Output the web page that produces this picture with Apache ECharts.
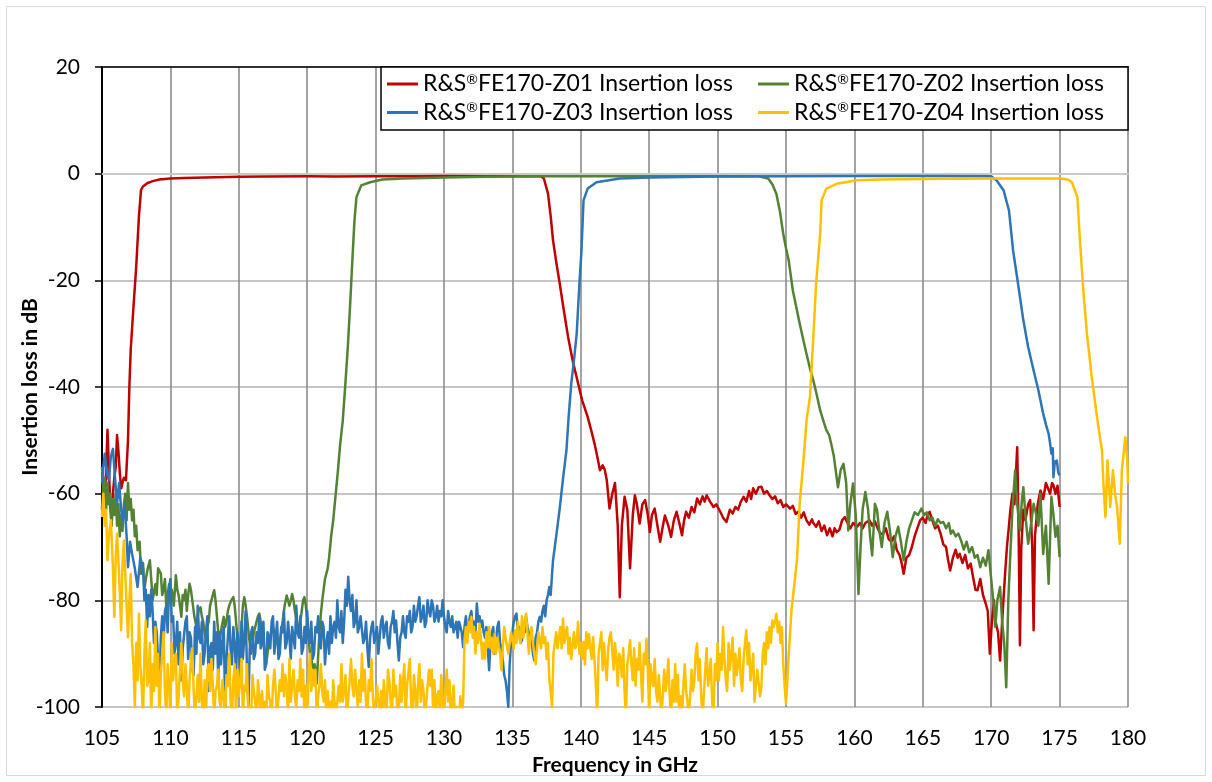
<!DOCTYPE html>
<html>
<head>
<meta charset="utf-8">
<script src="https://cdn.jsdelivr.net/npm/echarts@6/dist/echarts.min.js"></script>
<style>
html,body{margin:0;padding:0;background:#fff;}
#chart{width:1212px;height:782px;}
</style>
</head>
<body>
<div id="chart"></div>
<script>
// Frequency axis ticks (GHz) and insertion loss axis ticks (dB)
const xTicks = [105,110,115,120,125,130,135,140,145,150,155,160,165,170,175,180];
const yTicks = [-100,-80,-60,-40,-20,0,20];

const seriesNames = [
  'R&S®FE170-Z01 Insertion loss',
  'R&S®FE170-Z02 Insertion loss',
  'R&S®FE170-Z03 Insertion loss',
  'R&S®FE170-Z04 Insertion loss'
];

// [frequency GHz, insertion loss dB]
const z01 = [
[105.0,-63],[105.1,-58],[105.2,-61],[105.3,-56],[105.4,-48],[105.5,-55],[105.6,-62],[105.7,-66],[105.8,-60],[105.9,-57],
[106.0,-55],[106.1,-49],[106.2,-52],[106.3,-56],[106.4,-59],[106.5,-58],[106.6,-57],[106.75,-57.5],[106.9,-50],[107.0,-40],
[107.1,-33],[107.3,-25],[107.5,-17.5],[107.7,-8],[107.85,-3.1],[108.0,-2.4],[108.3,-1.8],[108.7,-1.4],[109.2,-1.1],[110,-0.9],
[111,-0.8],[112.5,-0.7],[115,-0.6],[117,-0.55],[120,-0.5],[122,-0.55],[125,-0.5],[128,-0.5],[130,-0.45],[133,-0.5],
[136,-0.5],[137.1,-0.5],[137.3,-0.9],[137.6,-3.7],[137.8,-8],[137.97,-12.5],[138.2,-16.5],[138.46,-20.6],[138.75,-25.5],[139.07,-30.6],
[139.4,-35],[139.8,-39.3],[140.1,-42.5],[140.5,-45.6],[140.8,-48.5],[141.0,-50.6],[141.2,-53],[141.4,-55.6],[141.6,-54.7],[141.75,-55.5],
[141.9,-57.5],[142.1,-62.8],[142.3,-60],[142.5,-58],[142.7,-66],[142.85,-79.4],[143.0,-66],[143.2,-60.6],[143.4,-63],[143.6,-74],
[143.8,-64],[143.95,-60.3],[144.1,-62],[144.3,-65.6],[144.5,-62],[144.7,-61.2],[144.9,-64],[145.05,-67.2],[145.2,-64],[145.4,-62.8],
[145.6,-66],[145.8,-69],[146.0,-66],[146.15,-64.1],[146.4,-66],[146.6,-68.1],[146.8,-65],[147.0,-63.4],[147.2,-65.5],[147.4,-67.8],
[147.55,-65],[147.7,-63.4],[147.9,-64.5],[148.1,-62.5],[148.3,-63.5],[148.5,-60.9],[148.7,-62],[148.9,-60.5],[149.05,-61.5],[149.2,-60.3],
[149.45,-61.5],[149.7,-62.5],[149.9,-62],[150.2,-63.4],[150.4,-64.5],[150.65,-65.3],[150.9,-63],[151.1,-63.7],[151.3,-62.5],[151.5,-63],
[151.7,-61.5],[151.9,-60.6],[152.1,-61.5],[152.3,-59.5],[152.45,-61],[152.6,-59],[152.8,-60],[153.0,-58.8],[153.2,-58.7],[153.4,-60],
[153.6,-59.5],[153.8,-60.3],[154.0,-61],[154.2,-60.5],[154.4,-61.8],[154.6,-61.2],[154.8,-62.5],[155.0,-62],[155.3,-62.8],[155.5,-62.3],
[155.7,-63.8],[155.9,-63.4],[156.1,-64.5],[156.3,-63.5],[156.5,-65],[156.7,-65.8],[156.9,-64.8],[157.0,-65.5],[157.2,-66.2],[157.4,-65.2],
[157.6,-67],[157.8,-66],[158.0,-67.8],[158.2,-66.5],[158.4,-68],[158.55,-66.5],[158.7,-67.2],[158.9,-66.8],[159.1,-65],[159.3,-64.4],
[159.5,-65.5],[159.7,-66.5],[159.9,-65.5],[160.2,-66.2],[160.4,-65.5],[160.6,-66.5],[160.8,-65.5],[161.1,-65],[161.3,-66],[161.5,-65.2],
[161.7,-66.5],[161.9,-67.5],[162.1,-67.5],[162.3,-66.5],[162.5,-68.5],[162.7,-69],[162.9,-68],[163.1,-70.6],[163.3,-71.5],[163.45,-73],
[163.6,-75],[163.8,-72],[164.0,-71.5],[164.2,-70],[164.4,-68],[164.6,-66.5],[164.8,-65],[165.0,-64.5],[165.2,-65.5],[165.35,-64],
[165.5,-63.4],[165.7,-65],[165.9,-66.5],[166.1,-66],[166.3,-67.5],[166.5,-69.5],[166.7,-70],[166.85,-72.5],[167.0,-74.4],[167.2,-72],
[167.4,-70.5],[167.55,-72],[167.7,-71.3],[167.9,-73],[168.1,-71.5],[168.3,-74],[168.5,-73.1],[168.7,-76],[168.85,-78],[169.0,-78.1],
[169.2,-76],[169.4,-79],[169.6,-80.6],[169.75,-82],[169.9,-90],[170.05,-84],[170.2,-80],[170.3,-83.8],[170.5,-86],[170.65,-91.3],
[170.8,-84],[171.0,-75.6],[171.15,-70],[171.3,-66],[171.4,-63.1],[171.55,-60],[171.7,-62],[171.9,-51.3],[172.0,-66],[172.1,-88.4],
[172.2,-70],[172.35,-63],[172.5,-65],[172.7,-62],[172.85,-61.2],[173.0,-70],[173.1,-85.6],[173.2,-68],[173.4,-62],[173.6,-59.4],
[173.8,-61],[174.0,-58],[174.1,-58.1],[174.3,-60],[174.45,-58],[174.55,-58.4],[174.7,-60],[174.85,-58.5],[175.0,-62.5]
];

const z02 = [
[105.0,-55],[105.1,-60],[105.2,-57],[105.3,-63],[105.4,-58],[105.5,-62],[105.6,-60],[105.7,-66],[105.8,-61],[105.9,-64],
[106.0,-60],[106.1,-66],[106.2,-62],[106.3,-68],[106.4,-64],[106.5,-67],[106.6,-62],[106.7,-60],[106.8,-65],[106.9,-58],
[107.0,-63],[107.1,-61],[107.2,-65],[107.3,-63],[107.4,-68],[107.5,-66],[107.6,-70.6],[107.75,-69],[107.85,-75],[108.0,-73],
[108.1,-78],[108.2,-76],[108.35,-74],[108.5,-72.5],[108.6,-76],[108.7,-80],[108.9,-77],[109.0,-79],[109.1,-74],[109.3,-75],
[109.4,-79],[109.5,-78],[109.6,-76],[109.7,-81.3],[109.8,-79],[109.9,-77],[110.0,-80],[110.1,-78],[110.25,-81],[110.4,-75.3],
[110.5,-78],[110.6,-79],[110.7,-81],[110.8,-83.1],[110.9,-79],[111.0,-80],[111.1,-78],[111.2,-82],[111.3,-79],[111.4,-76.9],
[111.5,-78],[111.6,-80],[111.75,-83],[111.9,-85],[112.05,-82],[112.2,-81.3],[112.3,-83],[112.4,-84],[112.5,-86],[112.6,-87.5],
[112.7,-85],[112.8,-84],[112.9,-81],[113.0,-80],[113.1,-79],[113.2,-78.1],[113.3,-80],[113.4,-83],[113.5,-86],[113.6,-87.5],
[113.75,-85],[113.9,-83.1],[114.0,-85],[114.1,-84],[114.2,-82],[114.3,-81],[114.45,-80],[114.6,-79.4],[114.7,-81],[114.8,-84],
[114.9,-87],[115.05,-89.4],[115.15,-87],[115.2,-85],[115.3,-81],[115.4,-79.4],[115.5,-81],[115.6,-83],[115.75,-87],[115.9,-90],
[116.0,-88],[116.1,-86],[116.2,-85],[116.3,-84],[116.4,-83],[116.5,-82.5],[116.6,-84],[116.7,-86],[116.85,-89],[117.0,-91.9],
[117.1,-90],[117.2,-88],[117.35,-86],[117.5,-85],[117.6,-86],[117.75,-87],[117.9,-89],[118.0,-88.8],[118.1,-86],[118.2,-84],
[118.35,-81],[118.5,-79.1],[118.6,-80],[118.7,-81],[118.8,-80],[118.9,-78.8],[119.0,-80],[119.1,-82],[119.25,-84],[119.4,-86.3],
[119.5,-84],[119.6,-82],[119.7,-80],[119.8,-79.4],[119.9,-81],[120.0,-84],[120.1,-87],[120.2,-90],[120.3,-91],[120.45,-93],
[120.55,-92],[120.7,-95.6],[120.85,-88],[121.0,-82.5],[121.1,-80],[121.2,-78],[121.3,-76],[121.4,-75],[121.5,-74],[121.6,-72],
[121.75,-68],[121.9,-65],[122.05,-61],[122.25,-55.6],[122.4,-51],[122.6,-46.3],[122.8,-39],[122.97,-32.5],[123.15,-24],[123.3,-16.3],
[123.45,-9],[123.6,-4.4],[123.95,-2.2],[124.6,-1.6],[125.5,-1.1],[127,-0.9],[130,-0.7],[133,-0.6],[136,-0.5],[140,-0.5],
[145,-0.5],[150,-0.5],[153,-0.5],[153.7,-0.9],[154.0,-2.0],[154.3,-3.8],[154.55,-7],[154.8,-11.3],[155.0,-14],[155.2,-16.3],
[155.5,-21.9],[155.75,-25],[156.0,-28.1],[156.25,-31],[156.5,-33.8],[156.75,-36.5],[157.0,-38.8],[157.25,-41.5],[157.5,-44.4],[157.75,-46.5],
[157.95,-48.1],[158.15,-49],[158.3,-50.6],[158.5,-53],[158.6,-55],[158.8,-58.8],[159.0,-55.5],[159.2,-54.4],[159.4,-58],[159.55,-66.9],
[159.7,-62],[159.9,-58.1],[160.1,-64],[160.3,-78.8],[160.45,-70],[160.6,-63],[160.8,-59.7],[161.0,-63],[161.15,-68],[161.3,-71.6],
[161.5,-61.9],[161.65,-63],[161.8,-66.5],[162.0,-70],[162.2,-65.5],[162.4,-63.4],[162.6,-67],[162.8,-71.9],[163.0,-68],[163.2,-66.2],
[163.4,-69],[163.6,-72.5],[163.8,-69],[164.0,-66.5],[164.2,-65],[164.4,-63.5],[164.65,-64],[164.9,-62.8],[165.1,-64],[165.3,-63.5],
[165.5,-65],[165.7,-64.5],[165.9,-66],[166.1,-64.8],[166.3,-65.5],[166.5,-65.3],[166.7,-66.5],[166.9,-65.5],[167.05,-67.5],[167.2,-66.9],
[167.4,-68],[167.6,-67.5],[167.8,-68.8],[168.0,-70.5],[168.2,-69],[168.4,-71],[168.6,-70],[168.8,-72],[169.0,-71.5],[169.2,-73.8],
[169.4,-72],[169.6,-73.5],[169.8,-70.6],[170.0,-76],[170.15,-80],[170.3,-85],[170.45,-80],[170.65,-77.5],[170.8,-84],[170.95,-88],
[171.1,-96.3],[171.25,-80],[171.4,-71.3],[171.55,-63],[171.75,-55.6],[171.9,-62],[172.1,-66.9],[172.25,-61],[172.35,-58.8],[172.5,-64],
[172.7,-69.4],[172.9,-66],[173.1,-61.9],[173.3,-64],[173.45,-66],[173.6,-60],[173.8,-71.3],[174.0,-66],[174.2,-76.9],[174.4,-60.6],
[174.55,-64],[174.7,-68.1],[174.85,-66],[175.0,-71.9]
];

const z03 = [
[105.0,-58],[105.1,-55],[105.2,-52.5],[105.35,-56],[105.5,-57.5],[105.65,-53],[105.8,-51.6],[105.95,-57],[106.1,-61.9],[106.25,-58],
[106.4,-63],[106.5,-65],[106.65,-62],[106.8,-68],[106.9,-73.8],[107.05,-69],[107.2,-71.3],[107.4,-74],[107.6,-77.5],[107.8,-72],
[108.0,-74],[108.1,-80],[108.2,-78],[108.3,-85],[108.4,-79],[108.5,-83],[108.6,-78],[108.7,-82],[108.8,-88],[108.9,-84],
[109.0,-86],[109.1,-91],[109.2,-96],[109.3,-87],[109.4,-83],[109.5,-88],[109.6,-82],[109.7,-81],[109.8,-86],[109.9,-78],
[110.0,-76],[110.1,-84],[110.2,-83],[110.3,-90],[110.4,-88],[110.5,-84],[110.6,-92],[110.7,-86],[110.8,-95],[110.9,-89],
[111.0,-89],[111.1,-84],[111.2,-83],[111.3,-91],[111.4,-86],[111.5,-87],[111.6,-93],[111.7,-94],[111.8,-85],[111.9,-90],
[112.0,-81],[112.1,-87],[112.2,-88],[112.3,-84],[112.4,-92],[112.5,-90],[112.6,-86],[112.7,-83],[112.8,-97],[112.9,-89],
[113.0,-88],[113.1,-93],[113.2,-84],[113.3,-90],[113.4,-86],[113.5,-95],[113.6,-86],[113.7,-92],[113.8,-88],[113.9,-85],
[114.0,-100],[114.1,-91],[114.2,-87],[114.3,-83],[114.4,-89],[114.5,-92],[114.6,-85],[114.7,-88],[114.8,-94],[114.9,-86],
[115.0,-88],[115.1,-95],[115.2,-84],[115.3,-91],[115.4,-87],[115.5,-82],[115.6,-93],[115.7,-100],[115.8,-89],[115.9,-86],
[116.0,-85],[116.1,-91],[116.2,-90],[116.3,-86],[116.4,-88],[116.5,-83],[116.6,-89],[116.7,-88],[116.8,-84],[116.9,-93],
[117.0,-92],[117.1,-86],[117.2,-86],[117.3,-89],[117.4,-84],[117.5,-83],[117.6,-90],[117.7,-87],[117.8,-84],[117.9,-91],
[118.0,-90],[118.1,-85],[118.2,-86],[118.3,-82],[118.4,-89],[118.5,-88],[118.6,-84],[118.7,-87],[118.8,-91],[118.9,-85],
[119.0,-85],[119.1,-89],[119.2,-81],[119.3,-86],[119.4,-87],[119.5,-83],[119.6,-90],[119.7,-89],[119.8,-85],[119.9,-88],
[120.0,-82],[120.1,-87],[120.2,-88],[120.3,-84],[120.4,-91],[120.5,-90],[120.6,-85],[120.7,-86],[120.8,-83],[120.9,-88],
[121.0,-89],[121.1,-84],[121.2,-85],[121.3,-92],[121.4,-88],[121.5,-86],[121.6,-90],[121.7,-83],[121.8,-88],[121.9,-85],
[122.0,-84],[122.1,-87],[122.2,-80],[122.3,-85],[122.4,-86],[122.5,-82],[122.6,-88],[122.7,-84],[122.8,-78],[122.9,-81],
[123.0,-75.6],[123.1,-80],[123.2,-82],[123.3,-79],[123.4,-85],[123.5,-84],[123.6,-80],[123.7,-86],[123.8,-85],[123.9,-83],
[124.0,-83],[124.1,-88],[124.2,-87],[124.3,-84],[124.4,-89],[124.5,-92.5],[124.6,-87],[124.7,-85],[124.8,-84],[124.9,-88],
[125.0,-88],[125.1,-85],[125.2,-90],[125.3,-86.9],[125.4,-84],[125.5,-83],[125.6,-87],[125.7,-85],[125.8,-84],[125.9,-88],
[126.0,-89],[126.1,-85],[126.2,-84],[126.3,-82],[126.4,-86],[126.5,-83.8],[126.6,-88],[126.7,-91.3],[126.8,-87],[126.9,-86],
[127.0,-83],[127.1,-86],[127.2,-87],[127.3,-83],[127.4,-84],[127.5,-82],[127.6,-86],[127.7,-85],[127.8,-81],[127.9,-84],
[128.0,-83],[128.1,-81],[128.2,-79.4],[128.3,-84],[128.4,-83],[128.5,-81],[128.6,-85],[128.7,-84],[128.8,-80],[128.9,-82],
[129.0,-83],[129.1,-80],[129.2,-81],[129.3,-84],[129.4,-83.1],[129.5,-81],[129.6,-84],[129.7,-82],[129.8,-83],[129.9,-80],
[130.0,-83],[130.1,-85],[130.2,-86],[130.3,-82],[130.4,-84],[130.5,-85],[130.6,-83],[130.7,-86],[130.8,-85],[130.9,-84],
[131.0,-87],[131.1,-84],[131.2,-84],[131.3,-86],[131.4,-88.8],[131.5,-85],[131.6,-83],[131.7,-86],[131.8,-86],[131.9,-83],
[132.0,-82],[132.1,-85],[132.2,-84],[132.3,-86],[132.4,-80.6],[132.5,-84],[132.6,-83],[132.7,-85],[132.8,-83.8],[132.9,-86],
[133.0,-87],[133.1,-85],[133.2,-89],[133.3,-93.1],[133.4,-88],[133.5,-86],[133.6,-85],[133.7,-90],[133.8,-87.5],[133.9,-85],
[134.0,-84],[134.1,-88],[134.2,-89],[134.3,-91.3],[134.4,-94],[134.5,-95],[134.6,-97],[134.7,-100],[134.8,-92],[134.9,-88],
[135.0,-86],[135.1,-84],[135.2,-83],[135.3,-82.5],[135.4,-86],[135.5,-85],[135.6,-88],[135.7,-87.5],[135.8,-84],[135.9,-86],
[136.0,-83.1],[136.1,-85],[136.2,-86],[136.3,-88],[136.4,-87],[136.5,-90],[136.6,-91.3],[136.7,-87],[136.8,-86],[136.9,-84],
[137.0,-83.1],[137.1,-84],[137.2,-82],[137.3,-81],[137.4,-83],[137.5,-80],[137.6,-79],[137.7,-77.5],[137.8,-79],[137.9,-75],
[137.97,-72.5],[138.2,-68],[138.45,-63],[138.7,-57.2],[138.95,-51.9],[139.1,-46],[139.3,-39.4],[139.5,-35],[139.7,-30],[139.9,-20.6],
[140.05,-14.4],[140.2,-5],[140.5,-2.8],[141.15,-1.6],[142.85,-0.9],[145,-0.7],[150,-0.55],[155,-0.5],[160,-0.45],[165,-0.45],
[170,-0.5],[170.4,-1.3],[170.9,-3.1],[171.3,-6.9],[171.6,-14.4],[172.0,-21.3],[172.35,-27.5],[172.7,-32.5],[173.1,-36.9],[173.45,-40.6],
[173.8,-45],[174.0,-47],[174.2,-48.8],[174.3,-50.5],[174.4,-52.5],[174.5,-51.5],[174.55,-56.9],[174.65,-54],[174.8,-53.8],[174.9,-56],
[175.0,-56.6]
];

const z04 = [
[105.0,-64.4],[105.1,-60],[105.2,-66],[105.3,-63],[105.4,-72.5],[105.5,-68],[105.65,-65],[105.8,-74],[105.9,-83.1],[106.0,-72],
[106.1,-67.5],[106.25,-75],[106.4,-85.6],[106.5,-73],[106.6,-68.8],[106.75,-78],[106.9,-86.9],
[107.0,-80],[107.1,-75],[107.2,-88],[107.3,-92],[107.4,-100],[107.5,-88],[107.6,-95],[107.7,-82.5],[107.8,-92],[107.9,-96],
[108.0,-102],[108.1,-90],[108.2,-83.8],[108.3,-96],[108.4,-95],[108.5,-88],[108.6,-102],[108.7,-92],[108.8,-97],[108.9,-85],
[109.0,-96],[109.1,-90],[109.2,-102],[109.3,-94],[109.4,-90],[109.5,-86],[109.6,-97],[109.7,-102],[109.8,-92],[109.9,-96],
[110.0,-102],[110.1,-88],[110.2,-95],[110.3,-91],[110.4,-90],[110.5,-102],[110.6,-98],[110.7,-93],[110.8,-88],[110.9,-95],
[111.0,-98],[111.1,-92],[111.2,-96],[111.3,-102],[111.4,-95],[111.5,-91],[111.6,-89],[111.7,-97],[111.8,-102],[111.9,-102],
[112.0,-94],[112.1,-99],[112.2,-90],[112.3,-99],[112.4,-102],[112.5,-95],[112.6,-102],[112.7,-93],[112.8,-92],[112.9,-97],
[113.0,-91],[113.1,-96],[113.2,-102],[113.3,-97],[113.4,-96],[113.5,-93],[113.6,-99],[113.7,-100],[113.8,-95],[113.9,-98],
[114.0,-102],[114.1,-94],[114.2,-96],[114.3,-90],[114.4,-99],[114.5,-102],[114.6,-95],[114.7,-92],[114.8,-102],[114.9,-93],
[115.0,-98],[115.1,-95],[115.2,-91],[115.3,-102],[115.4,-96],[115.5,-97],[115.6,-92],[115.7,-102],[115.8,-100],[115.9,-102],
[116.0,-94],[116.1,-97],[116.2,-99],[116.3,-102],[116.4,-95],[116.5,-98],[116.6,-102],[116.7,-97],[116.8,-102],[116.9,-99],
[117.0,-102],[117.1,-94],[117.2,-98],[117.3,-99],[117.4,-102],[117.5,-96],[117.6,-93],[117.7,-97],[117.8,-102],[117.9,-102],
[118.0,-95],[118.1,-97],[118.2,-92],[118.3,-98],[118.4,-94],[118.5,-96],[118.6,-102],[118.7,-91],[118.8,-99],[118.9,-96],
[119.0,-93],[119.1,-98],[119.2,-100],[119.3,-95],[119.4,-97],[119.5,-91],[119.6,-98],[119.7,-93],[119.8,-102],[119.9,-96],
[120.0,-102],[120.1,-94],[120.2,-90],[120.3,-97],[120.4,-93],[120.5,-96],[120.6,-93],[120.7,-102],[120.8,-98],[120.9,-96],
[121.0,-92],[121.1,-97],[121.2,-99],[121.3,-95],[121.4,-102],[121.5,-97],[121.6,-102],[121.7,-99],[121.8,-102],[121.9,-95],
[122.0,-99],[122.1,-102],[122.2,-102],[122.3,-96],[122.4,-99],[122.5,-92],[122.6,-99],[122.7,-97],[122.8,-94],[122.9,-102],
[123.0,-102],[123.1,-95],[123.2,-91],[123.3,-96],[123.4,-98],[123.5,-93],[123.6,-97],[123.7,-100],[123.8,-95],[123.9,-99],
[124.0,-90],[124.1,-97],[124.2,-93],[124.3,-99],[124.4,-102],[124.5,-95],[124.6,-97],[124.7,-91],[124.8,-98],[124.9,-102],
[125.0,-102],[125.1,-96],[125.2,-99],[125.3,-102],[125.4,-97],[125.5,-102],[125.6,-95],[125.7,-99],[125.8,-102],[125.9,-93],
[126.0,-95],[126.1,-99],[126.2,-102],[126.3,-93],[126.4,-98],[126.5,-96],[126.6,-102],[126.7,-100],[126.8,-94],[126.9,-99],
[127.0,-99],[127.1,-92],[127.2,-102],[127.3,-96],[127.4,-96],[127.5,-91],[127.6,-99],[127.7,-102],[127.8,-94],[127.9,-97],
[128.0,-102],[128.1,-96],[128.2,-92],[128.3,-99],[128.4,-95],[128.5,-97],[128.6,-102],[128.7,-99],[128.8,-96],[128.9,-93],
[129.0,-96],[129.1,-93],[129.2,-100],[129.3,-95],[129.4,-102],[129.5,-98],[129.6,-97],[129.7,-101],[129.8,-94],[129.9,-99],
[130.0,-102],[130.1,-97],[130.2,-93],[130.3,-99],[130.4,-95],[130.5,-102],[130.6,-99],[130.7,-96],[130.8,-102],[130.9,-100],
[131.0,-100],[131.1,-102],[131.2,-98],[131.3,-102],[131.4,-99],
[131.5,-87.5],[131.6,-85],[131.7,-88],[131.8,-84],[131.9,-86],
[132.0,-83.1],[132.1,-87],[132.2,-85],[132.3,-90],[132.4,-86],[132.5,-88],[132.6,-84.4],[132.7,-87],[132.8,-91],[132.9,-88],
[133.0,-91],[133.1,-86],[133.2,-88.8],[133.3,-85],[133.4,-89],[133.5,-87],[133.6,-90],[133.7,-86.3],[133.8,-90],[133.9,-87],
[134.0,-87],[134.1,-90],[134.2,-93.1],[134.3,-89],[134.4,-85],[134.5,-87],[134.6,-86.9],[134.7,-90],[134.8,-88],[134.9,-86],
[135.0,-86],[135.1,-89],[135.2,-85.6],[135.3,-88],[135.4,-84],[135.5,-87],[135.6,-88],[135.7,-83],[135.8,-87],[135.9,-84],
[136.0,-82.5],[136.1,-86],[136.2,-90],[136.3,-87],[136.4,-85],[136.5,-88],[136.6,-87.8],[136.7,-92],[136.8,-89],[136.9,-86],
[137.0,-86],[137.1,-89],[137.2,-85],[137.3,-88],[137.4,-86.9],[137.5,-91],[137.6,-88],[137.7,-95],[137.8,-97],[137.9,-100],
[138.0,-90],[138.1,-88],[138.2,-86],[138.3,-89],[138.4,-87],[138.5,-85],[138.6,-89],[138.7,-83.4],[138.8,-88],[138.9,-86],
[139.0,-85],[139.1,-90],[139.2,-87],[139.3,-91],[139.4,-91.3],[139.5,-86],[139.6,-89],[139.7,-88],[139.8,-84],[139.9,-90],
[140.0,-88],[140.1,-91],[140.2,-87.8],[140.3,-92],[140.4,-86],[140.5,-89],[140.6,-86.3],[140.7,-89],[140.8,-91],[140.9,-86.9],
[141.0,-91],[141.1,-96],[141.2,-102],[141.3,-90],[141.4,-88],[141.5,-86],[141.6,-93.1],[141.7,-88],[141.8,-92],[141.9,-95],
[142.0,-89],[142.1,-87],[142.2,-86],[142.3,-89.4],[142.4,-93],[142.5,-88],[142.6,-91],[142.7,-96],[142.8,-90],[142.9,-91],
[143.0,-94.4],[143.1,-89],[143.2,-97],[143.3,-102],[143.4,-92],[143.5,-90],[143.6,-87.5],[143.7,-92],[143.8,-95],[143.9,-89],
[144.0,-96],[144.1,-91],[144.2,-93],[144.3,-88],[144.4,-94],[144.5,-99],[144.6,-90],[144.7,-92],[144.8,-87.2],[144.9,-93],
[145.0,-102],[145.1,-92],[145.2,-95],[145.3,-96],[145.4,-91],[145.5,-97],[145.6,-99],[145.7,-94],[145.8,-98],[145.9,-102],
[146.0,-102],[146.1,-93],[146.2,-97],[146.3,-95],[146.4,-91],[146.5,-98],[146.6,-102],[146.7,-95],[146.8,-99],[146.9,-92],
[147.0,-99],[147.1,-94],[147.2,-102],[147.3,-98],[147.4,-102],[147.5,-96],[147.6,-92],[147.7,-97],[147.8,-99],[147.9,-102],
[148.0,-102],[148.1,-93],[148.2,-97],[148.3,-95],[148.4,-90],[148.5,-88.1],[148.6,-95],[148.7,-91],[148.8,-98],[148.9,-102],
[149.0,-102],[149.1,-93],[149.2,-89],[149.3,-96],[149.4,-94],[149.5,-91],[149.6,-99],[149.7,-102],[149.8,-92],[149.9,-95],
[150.0,-88],[150.1,-95],[150.2,-90],[150.3,-93],[150.4,-85],[150.5,-91],[150.6,-95],[150.7,-97],[150.8,-88],[150.9,-93],
[151.0,-93],[151.1,-87],[151.2,-96],[151.3,-90],[151.4,-94],[151.5,-92],[151.6,-89],[151.7,-95],[151.8,-97],[151.9,-91],
[152.0,-88],[152.1,-85.6],[152.2,-92],[152.3,-88],[152.4,-95],[152.5,-93],[152.6,-90],[152.7,-99],[152.8,-96],[152.9,-93],
[153.0,-93],[153.1,-98],[153.2,-96.3],[153.3,-90],[153.4,-88],[153.5,-92],[153.6,-86],[153.7,-89],[153.8,-85],[153.9,-88],
[154.0,-83.8],[154.1,-85],[154.2,-84],[154.3,-82.5],[154.4,-86],[154.5,-84],[154.6,-88],[154.7,-85],[154.8,-92],[154.9,-96],
[155.0,-99.4],[155.1,-95],[155.2,-90],[155.3,-86],[155.4,-81.9],
[155.8,-72.5],[156.0,-61.9],[156.3,-53.1],[156.5,-46.3],[156.75,-41.9],[157.0,-30.6],[157.2,-20.6],[157.5,-11.3],[157.6,-5],[157.95,-2.8],
[158.7,-1.9],[160.2,-1.25],[162,-1.1],[165,-1.0],[170,-0.9],[175,-0.9],[175.6,-1.1],[175.9,-1.6],[176.3,-4.4],[176.5,-13.1],
[176.75,-22.5],[177.0,-30],[177.35,-38.1],[177.7,-45],[177.95,-49.4],[178.1,-52],[178.2,-58],[178.35,-64.4],[178.5,-53.8],[178.6,-58],
[178.7,-62.5],[178.9,-55.6],[179.05,-60],[179.2,-62.5],[179.4,-69.4],[179.55,-55.6],[179.7,-52],[179.8,-49.4],[179.95,-53.8],[180.0,-58]
];

const seriesData = [z01, z02, z03, z04];
const colors = ['#C00000', '#548235', '#2E75B6', '#FFC000'];

const FONT = 'Lato, "Noto Sans", sans-serif';
const chart = echarts.init(document.getElementById('chart'), null, {renderer: 'canvas'});

function legendFmt(name) {
  const parts = name.split('®');
  return '{t|' + parts[0] + '}{s|®}{t|' + parts[1] + '}';
}
const legendText = {
  fontFamily: FONT, color: '#000',
  rich: {
    t: {fontFamily: FONT, fontSize: 23, lineHeight: 24, color: '#000'},
    s: {fontFamily: FONT, fontSize: 14, lineHeight: 14, color: '#000', verticalAlign: 'top'}
  }
};
function makeLegend(names, left, top) {
  return {
    data: names, orient: 'vertical', left: left, top: top, padding: 0,
    itemGap: 5, itemWidth: 31, itemHeight: 3, icon: 'rect',
    formatter: legendFmt, textStyle: legendText, selectedMode: false, z: 5
  };
}

chart.setOption({
  animation: false,
  backgroundColor: '#fff',
  color: colors,
  grid: {left: 102, right: 84, top: 67, bottom: 75, containLabel: false},
  graphic: [
    {type: 'rect', z: 0, silent: true, shape: {x: 6.5, y: 6.5, width: 1199, height: 769},
     style: {fill: 'none', stroke: '#d9d9d9', lineWidth: 1}},
    {type: 'rect', z: 4, silent: true, shape: {x: 381, y: 67, width: 747, height: 63},
     style: {fill: '#fff', stroke: '#000', lineWidth: 1.5}}
  ],
  legend: [
    makeLegend([seriesNames[0], seriesNames[2]], 387, 72),
    makeLegend([seriesNames[1], seriesNames[3]], 758, 72)
  ],
  xAxis: [{
    type: 'value', min: xTicks[0], max: xTicks[xTicks.length - 1], interval: 5,
    name: 'Frequency in GHz', nameLocation: 'middle', nameGap: 48, nameMoveOverlap: false,
    nameTextStyle: {fontFamily: FONT, fontSize: 21, fontWeight: 'bold', color: '#000'},
    axisLine: {show: true, lineStyle: {color: '#c8c8c8', width: 2}},
    axisTick: {show: false},
    axisLabel: {fontFamily: FONT, fontSize: 21, color: '#000', margin: 21},
    splitLine: {show: true, lineStyle: {color: '#8c8c8c', width: 1.6}}
  }, {
    type: 'value', position: 'top', min: xTicks[0], max: xTicks[xTicks.length - 1], interval: 5,
    axisLine: {show: true, lineStyle: {color: '#000', width: 1.5}},
    axisTick: {show: false}, axisLabel: {show: false}, splitLine: {show: false}
  }],
  yAxis: {
    type: 'value', min: yTicks[0], max: yTicks[yTicks.length - 1], interval: 20,
    name: 'Insertion loss in dB', nameLocation: 'middle', nameGap: 61, nameMoveOverlap: false,
    nameTextStyle: {fontFamily: FONT, fontSize: 21, fontWeight: 'bold', color: '#000'},
    axisLine: {show: true, lineStyle: {color: '#000', width: 2}},
    axisTick: {show: true, length: 7, inside: false, lineStyle: {color: '#000', width: 1.5}},
    axisLabel: {fontFamily: FONT, fontSize: 21, color: '#000', margin: 22},
    splitLine: {show: true, lineStyle: {color: '#c6c6c6', width: 2}}
  },
  series: seriesNames.map((n, i) => ({
    name: n, type: 'line', xAxisIndex: 0, data: seriesData[i],
    showSymbol: false, symbol: 'none', clip: true, z: 2 + i,
    lineStyle: {color: colors[i], width: 2.5, join: 'round'},
    itemStyle: {color: colors[i]}
  }))
});
</script>
</body>
</html>
